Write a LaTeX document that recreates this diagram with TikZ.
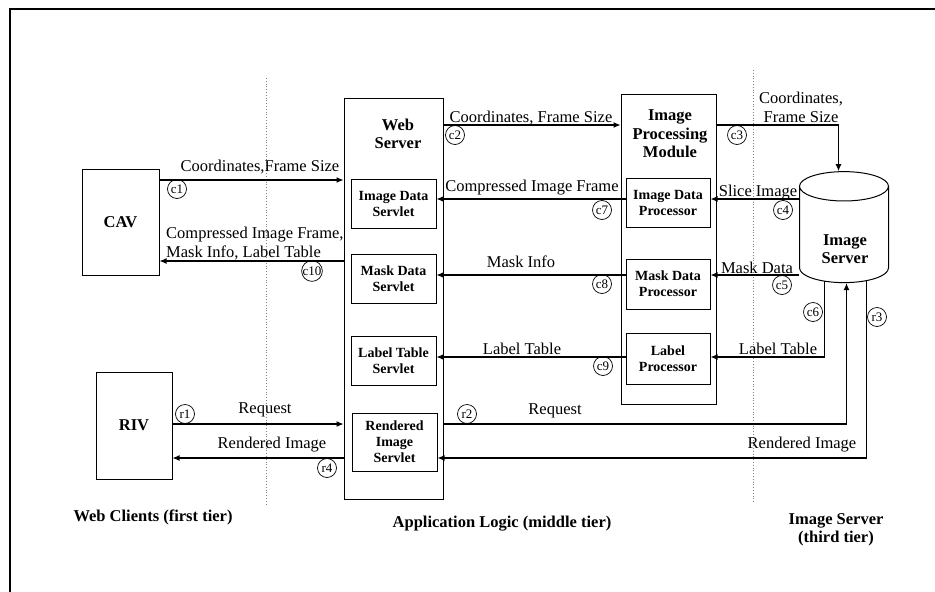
\documentclass[tikz,border=0pt]{standalone}
\usepackage{fontspec}
\setmainfont{Liberation Serif}
\usetikzlibrary{arrows.meta,shapes.geometric}

\tikzset{
  box/.style={draw, line width=1pt, inner sep=0pt, align=center,
    font=\bfseries\fontsize{16.5}{18}\selectfont},
  subbox/.style={draw, line width=1pt, inner sep=0pt, align=center,
    minimum width=85pt, font=\bfseries\fontsize{14}{16}\selectfont},
  title/.style={inner sep=0pt, align=center,
    font=\bfseries\fontsize{16.5}{18.5}\selectfont},
  lbl/.style={inner sep=0pt, align=center, font=\fontsize{16.5}{19}\selectfont},
  tag/.style={circle, draw, line width=0.7pt, minimum size=19pt, inner sep=0pt,
    font=\fontsize{13}{13}\selectfont},
  flow/.style={line width=1.1pt, -{Latex[length=7pt,width=6pt]}},
  tierline/.style={dotted, gray, line width=0.8pt}
}

\begin{document}
\begin{tikzpicture}[x=1pt,y=-1pt]
\useasboundingbox (0,0) rectangle (935,592);
\draw[line width=2pt] (935,8.5) -- (9.5,8.5) -- (9.5,592);

\draw[tierline] (266,78) -- (266,505);
\draw[tierline] (753,70) -- (753,503);

% first tier
\node[box, minimum width=77pt, minimum height=106pt] (cav) at (120.5,222) {CAV};
\node[box, minimum width=76pt, minimum height=107pt] (riv) at (134,425.5) {RIV};

% middle tier
\node[box, minimum width=99pt, minimum height=401pt] (web) at (393.5,298.5) {};
\node[title] (webT) at (398,134) {Web\\Server};
\node[subbox, minimum height=49pt] (ids) at (393.5,203.5) {Image Data\\Servlet};
\node[subbox, minimum height=49pt] (mds) at (393.5,278.5) {Mask Data\\Servlet};
\node[subbox, minimum height=49pt] (lts) at (393.5,360.5) {Label Table\\Servlet};
\node[subbox, minimum height=58pt] (ris) at (394.5,442) {Rendered\\Image\\Servlet};

\node[box, minimum width=95pt, minimum height=310pt] (ipm) at (668.5,249) {};
\node[title] (ipmT) at (670,134) {Image\\Processing\\Module};
\node[subbox, minimum width=84pt, minimum height=49pt] (idp) at (668,202.5) {Image Data\\Processor};
\node[subbox, minimum width=84pt, minimum height=50pt] (mdp) at (668,284) {Mask Data\\Processor};
\node[subbox, minimum width=84pt, minimum height=51pt] (lp) at (668,358.5) {Label\\Processor};

% third tier
\node[cylinder, shape border rotate=90, aspect=0.55, draw, line width=1pt,
  minimum width=89pt, minimum height=111pt, align=center,
  font=\bfseries\fontsize{16.5}{18}\selectfont] (srv) at (844,237.5)
  {\phantom{Server}\\\phantom{Server}};
\node[title] (srvT) at (845,249) {Image\\Server};

\foreach \n/\y in {c1/180,c10/261,c2/125,c7/199,c8/275,c9/357,r1/424,r4/458}
  \coordinate (y\n) at (0,\y);

\draw[flow] (cav.east |- yc1) -- (web.west |- yc1);
\draw[flow] (web.west |- yc10) -- (cav.east |- yc10);
\draw[flow] (web.east |- yc2) -- (ipm.west |- yc2);
\draw[flow] (ipm.east |- yc2) -| ([xshift=-5.5pt]srv.north);
\draw[flow] (idp.west |- yc7) -- (ids.east |- yc7);
\draw[flow] (srv.west |- yc7) -- (idp.east |- yc7);
\draw[flow] (mdp.west |- yc8) -- (mds.east |- yc8);
\draw[flow] (srv.west |- yc8) -- (mdp.east |- yc8);
\draw[flow] (lp.west |- yc9) -- (lts.east |- yc9);
\draw[flow] ([xshift=-19.5pt,yshift=2pt]srv.south) |- (lp.east |- yc9);
\draw[flow] (riv.east |- yr1) -- (web.west |- yr1);
\draw[flow] (web.west |- yr4) -- (riv.east |- yr4);
\draw[flow] (web.east |- yr1) -| ([xshift=2.5pt]srv.south);
\draw[flow] ([xshift=22.5pt,yshift=2.5pt]srv.south) |- (ris.east |- yr4);

\node[lbl] (l1) at (260,167) {Coordinates,Frame Size};
\node[lbl, align=left, anchor=west] (l10) at (166,244) {Compressed Image Frame,\\Mask Info, Label Table};
\node[lbl] (l2) at (531,118) {Coordinates, Frame Size};
\node[lbl] (l3) at (801,107) {Coordinates,\\Frame Size};
\node[lbl] (l7) at (532,188) {Compressed Image Frame};
\node[lbl] (l4) at (758,193) {Slice Image};
\node[lbl] (l8) at (521,262) {Mask Info};
\node[lbl] (l5) at (757,268) {Mask Data};
\node[lbl] (l9) at (522,349) {Label Table};
\node[lbl] (l6) at (778,349) {Label Table};
\node[lbl] (lr1) at (265,410) {Request};
\node[lbl] (lr2) at (555,411) {Request};
\node[lbl] (lr4) at (272,445) {Rendered Image};
\node[lbl] (lr3) at (802,445) {Rendered Image};

\foreach \t/\x/\y in {c1/177/189, c10/312/271, c2/455/135, c7/602/210,
    c8/602/284, c9/603/366, c3/737/135, c4/783/210, c5/782/285,
    c6/813/312, r3/877/317, r1/185/414, r4/327/468, r2/467/414}
  \node[tag] (t\t) at (\x,\y) {\t};

\node[title] (tier1) at (153,517) {Web Clients (first tier)};
\node[title] (tier2) at (502,524) {Application Logic (middle tier)};
\node[title] (tier3) at (836,530) {Image Server\\(third tier)};
\end{tikzpicture}
\end{document}
